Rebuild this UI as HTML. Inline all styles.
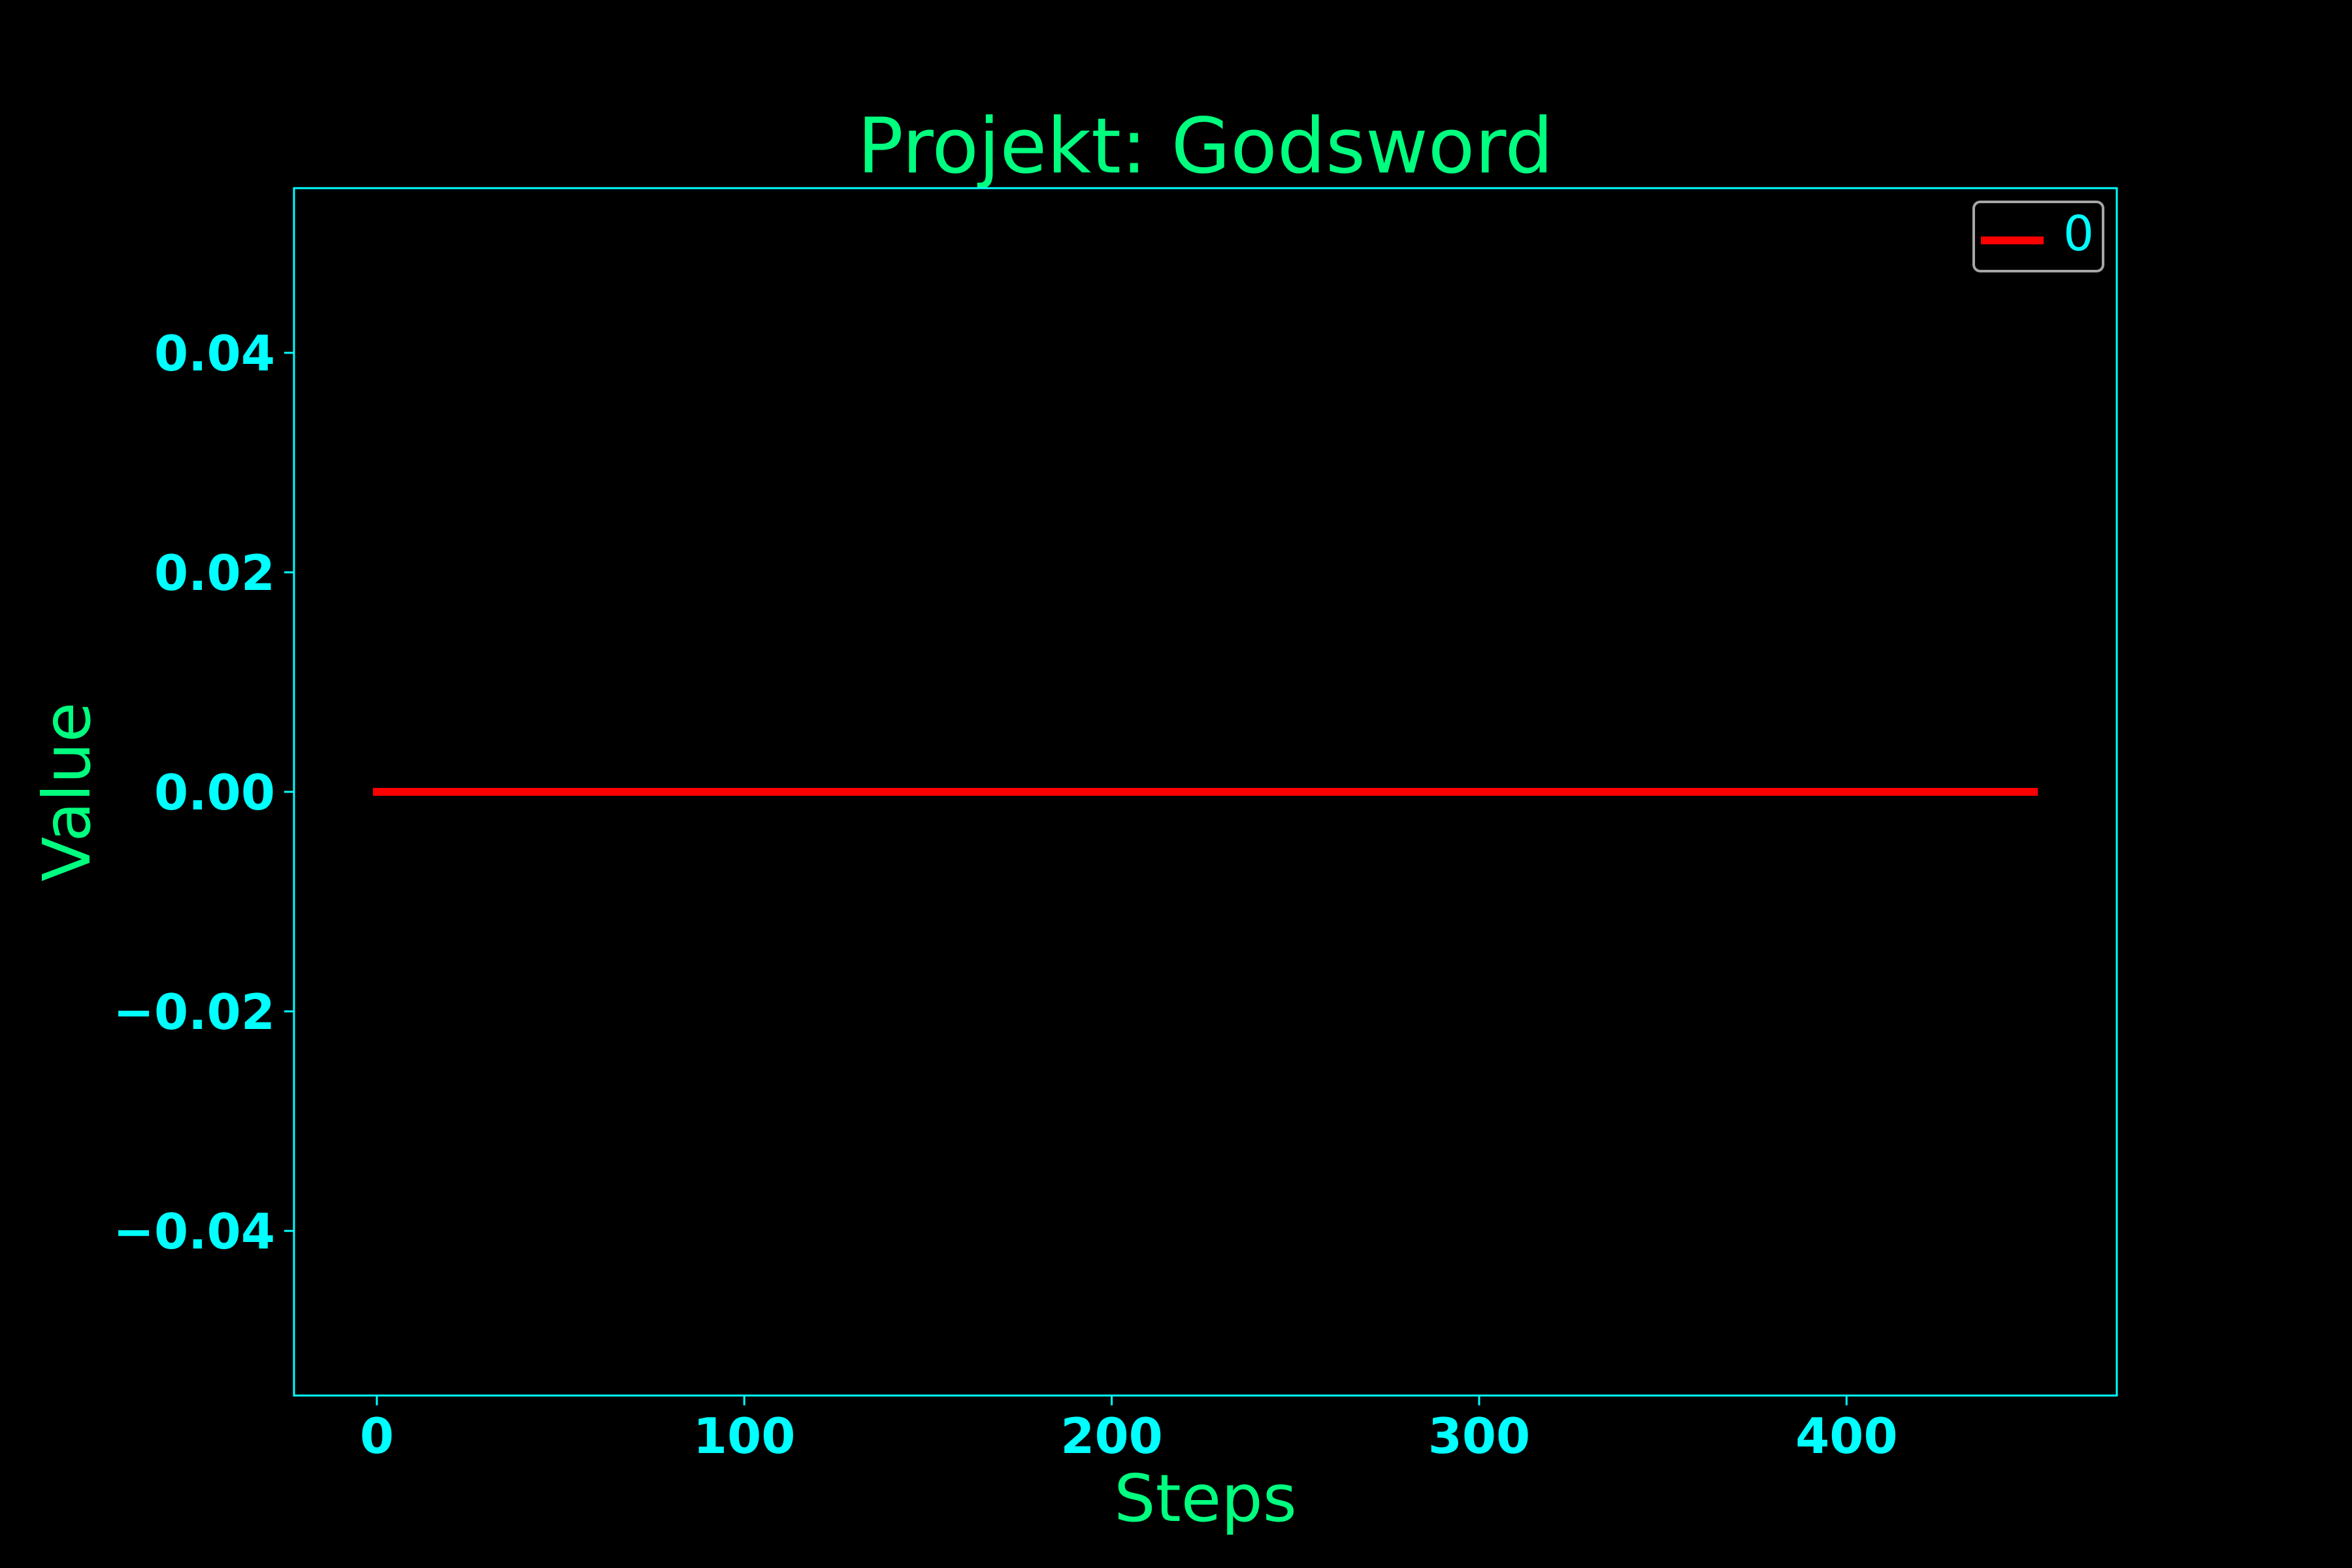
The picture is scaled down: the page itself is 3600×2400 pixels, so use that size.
<!DOCTYPE html>
<html><head><meta charset="utf-8"><style>
html,body{margin:0;padding:0;background:#000;}
svg{display:block;}
</style></head><body>
<svg id="chart" width="3600" height="2400" xmlns="http://www.w3.org/2000/svg" font-family="DejaVu Sans, Liberation Sans, sans-serif">
<rect width="3600" height="2400" fill="#000"/>
<text x="1845" y="264" font-size="117" fill="#00ff7f" text-anchor="middle">Projekt: Godsword</text>
<text x="1845" y="2328" font-size="100" fill="#00ff7f" text-anchor="middle">Steps</text>
<text x="0" y="0" font-size="100" fill="#00ff7f" text-anchor="middle" transform="translate(137,1212) rotate(-90)">Value</text>
<g id="ticks"></g>
<g id="plot"></g>
<rect x="450" y="288" width="2790" height="1848" fill="none" stroke="#00ffff" stroke-width="3"/>
<g>
<rect x="3021" y="309" width="198" height="106" rx="10" fill="#000" stroke="#a6a6a6" stroke-width="4"/>
<line x1="3032" y1="368" x2="3128" y2="368" stroke="#ff0000" stroke-width="12"/>
<text x="3158" y="383" font-size="74" fill="#00ffff">0</text>
</g>
</svg>
<script>
const steps = Array.from({length: 452}, (_, i) => i);
const values = steps.map(() => 0);
const xTicks = [0, 100, 200, 300, 400];
const yTicks = [-0.04, -0.02, 0.00, 0.02, 0.04];
const yTickLabels = ["\u22120.04", "\u22120.02", "0.00", "0.02", "0.04"];

const L = 450, R = 3240, T = 288, B = 2136;
const xMin = -22.55, xMax = 473.55, yMin = -0.055, yMax = 0.055;
const xs = v => L + (v - xMin) / (xMax - xMin) * (R - L);
const ys = v => B - (v - yMin) / (yMax - yMin) * (B - T);
const NS = "http://www.w3.org/2000/svg";
const tg = document.getElementById('ticks');
xTicks.forEach(t => {
  const l = document.createElementNS(NS, 'line');
  l.setAttribute('x1', xs(t)); l.setAttribute('x2', xs(t));
  l.setAttribute('y1', B); l.setAttribute('y2', B + 15);
  l.setAttribute('stroke', '#00ffff'); l.setAttribute('stroke-width', '3');
  
  
  tg.appendChild(l);
  const tx = document.createElementNS(NS, 'text');
  tx.setAttribute('x', xs(t)); tx.setAttribute('y', 2224);
  tx.setAttribute('font-size', '75'); tx.setAttribute('font-weight', 'bold');
  tx.setAttribute('fill', '#00ffff'); tx.setAttribute('text-anchor', 'middle');
  tx.textContent = t;
  
  
  tg.appendChild(tx);
});
yTicks.forEach((t, i) => {
  const l = document.createElementNS(NS, 'line');
  l.setAttribute('x1', L - 15); l.setAttribute('x2', L);
  l.setAttribute('y1', ys(t)); l.setAttribute('y2', ys(t));
  l.setAttribute('stroke', '#00ffff'); l.setAttribute('stroke-width', '3');
  
  
  tg.appendChild(l);
  const tx = document.createElementNS(NS, 'text');
  tx.setAttribute('x', 421); tx.setAttribute('y', ys(t) + 27);
  tx.setAttribute('font-size', '75'); tx.setAttribute('font-weight', 'bold');
  tx.setAttribute('fill', '#00ffff'); tx.setAttribute('text-anchor', 'end');
  tx.textContent = yTickLabels[i];
  
  
  tg.appendChild(tx);
});
const p = document.createElementNS(NS, 'polyline');
p.setAttribute('points', steps.map((s, i) => xs(s) + ',' + ys(values[i])).join(' '));
p.setAttribute('fill', 'none'); p.setAttribute('stroke', '#ff0000'); p.setAttribute('stroke-width', '12');
p.setAttribute('stroke-linecap', 'square');


document.getElementById('plot').appendChild(p);
</script>
</body></html>
